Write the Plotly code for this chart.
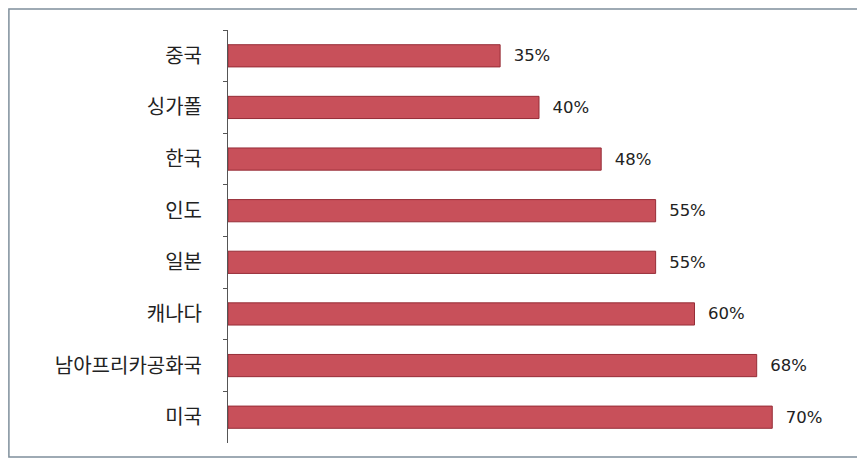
import plotly.graph_objects as go

categories = ["중국", "싱가폴", "한국", "인도", "일본", "캐나다", "남아프리카공화국", "미국"]
values = [35, 40, 48, 55, 55, 60, 68, 70]
labels = ["35%", "40%", "48%", "55%", "55%", "60%", "68%", "70%"]

# page body has an 8px margin, so the figure is drawn at offset (8, 8)
OFF = 8
W, H = 865 - OFF, 463 - OFF
ML = 228 - OFF
MT = 30 - OFF
MB = H - (443 - OFF)
XMAX = 80
pw = (772 - 228) / 70 * XMAX
MR = W - ML - pw

fig = go.Figure(go.Bar(
    y=categories, x=values, orientation="h",
    marker=dict(color="rgb(200,80,90)", line=dict(color="rgb(150,45,55)", width=1)),
    text=["  " + t for t in labels], textposition="outside",
    textfont=dict(family="DejaVu Sans", size=16.5, color="#222222"),
    cliponaxis=False, width=0.43,
))

ph = H - MT - MB
def px2paper_x(px):
    return (px - OFF - ML) / pw
def py2paper_y(py):
    return 1 - (py - OFF - MT) / ph

fig.update_layout(
    width=W, height=H,
    margin=dict(l=ML, r=MR, t=MT, b=MB, autoexpand=False),
    paper_bgcolor="white", plot_bgcolor="white",
    showlegend=False,
    xaxis=dict(range=[0, XMAX], visible=False, fixedrange=True),
    yaxis=dict(
        autorange="reversed", showline=True, linecolor="#555555", linewidth=1,
        ticks="outside", ticklen=4, tickcolor="#555555", tickson="boundaries",
        tickfont=dict(family="Noto Sans CJK KR", size=20, color="#222222"),
        ticklabelstandoff=21, showgrid=False, zeroline=False,
    ),
    shapes=[dict(
        type="rect", xref="paper", yref="paper",
        x0=px2paper_x(9), x1=px2paper_x(862),
        y0=py2paper_y(457), y1=py2paper_y(9),
        line=dict(color="#7f8f9c", width=1.5), fillcolor="rgba(0,0,0,0)",
    )],
)

fig.write_html("out.html")
